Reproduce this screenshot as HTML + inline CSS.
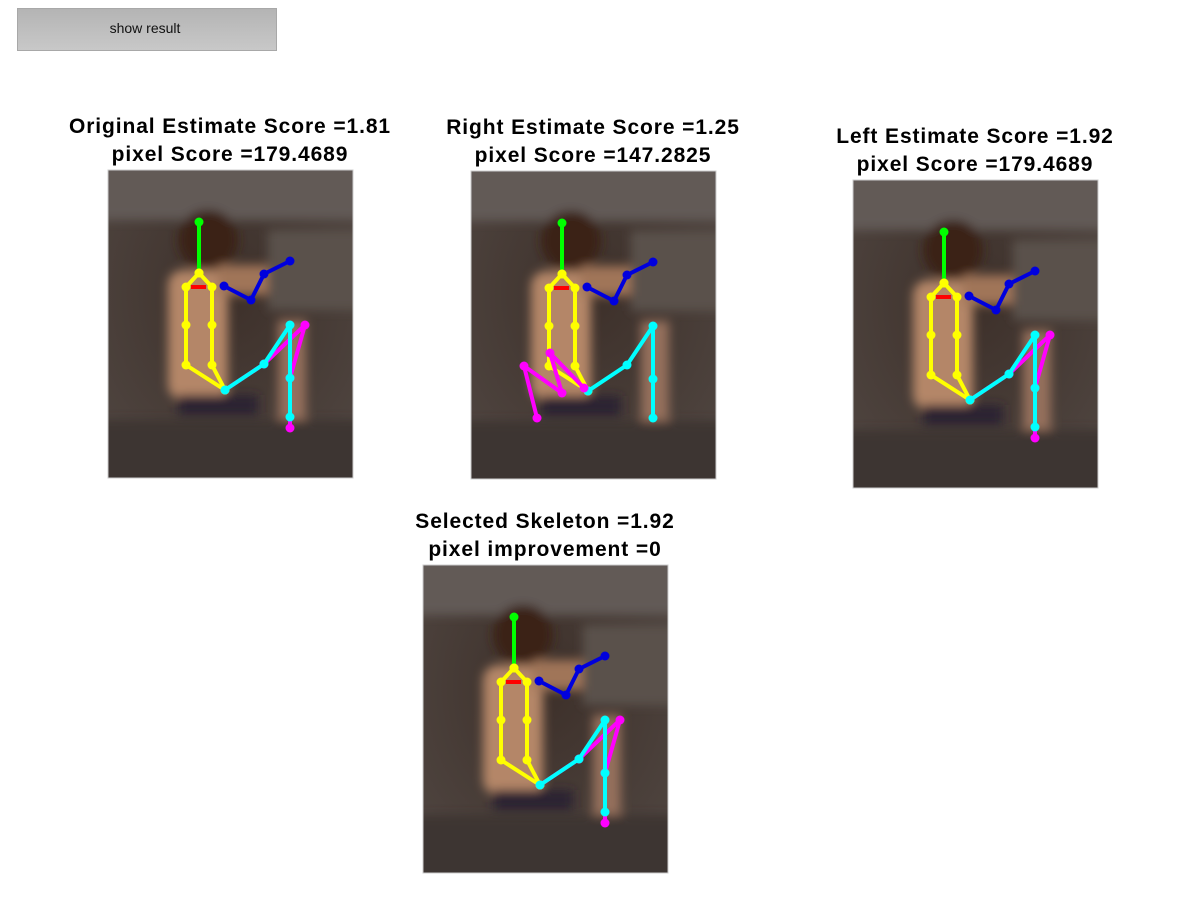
<!DOCTYPE html>
<html><head><meta charset="utf-8">
<style>
html,body{margin:0;padding:0;background:#fff;width:1200px;height:900px;overflow:hidden;font-family:"Liberation Sans",Arial,sans-serif}
#btn{position:absolute;left:17px;top:8px;width:258px;height:41px;border:1px solid #a8a8a8;background:linear-gradient(#b4b4b4,#c8c8c8);font-size:14px;color:#111;text-align:center;line-height:38px;text-indent:-4px}
svg{position:absolute;left:0;top:0}
</style></head><body>
<div id="btn">show result</div>
<svg id="s" width="1200" height="900">
<defs>
<radialGradient id="rock" cx="50%" cy="40%" r="70%">
<stop offset="0" stop-color="#3d302a"/><stop offset="1" stop-color="#4f4540"/>
</radialGradient>
<filter id="blur"><feGaussianBlur stdDeviation="5"/></filter>
<clipPath id="clip"><rect x="0" y="0" width="245" height="308"/></clipPath>
</defs>
</svg>
<script>
const panels = [
 {name:'original', x:108, y:170, t1:'Original Estimate Score =1.81', t2:'pixel Score =179.4689', skel:'A'},
 {name:'right', x:471, y:171, t1:'Right Estimate Score =1.25', t2:'pixel Score =147.2825', skel:'B'},
 {name:'left', x:853, y:180, t1:'Left Estimate Score =1.92', t2:'pixel Score =179.4689', skel:'A'},
 {name:'selected', x:423, y:565, t1:'Selected Skeleton =1.92', t2:'pixel improvement =0', skel:'A'}
];
// joint coordinates (local px within 245x308 image)
const headLimb = [[91,52],[91,103]];
const torsoLeft = [[91,103],[78,117],[78,155],[78,195],[117,220]];
const torsoRight = [[91,103],[104,117],[104,155],[104,195],[117,220]];
const shoulderBar = [[83,117],[98,117]];
const armBlue = [[116,116],[143,130],[156,104],[182,91]];
const legCyan = [[117,220],[156,194],[182,155],[182,208],[182,247]];
const legMagentaA = [[117,220],[156,194],[197,155],[182,208],[182,258]];
const legMagentaB = [[113,217],[79,182],[91,222],[53,195],[66,247]];

const S=document.getElementById('s'),NS='http://www.w3.org/2000/svg';
function mk(tag,attrs,parent){const e=document.createElementNS(NS,tag);for(const k in attrs)e.setAttribute(k,attrs[k]);(parent||S).appendChild(e);return e;}
function limb(g,pts,col,nm,dots){
 const pl=mk('polyline',{points:pts.map(p=>p.join(',')).join(' '),fill:'none',stroke:col,'stroke-width':4,'stroke-linejoin':'round'},g);
 
 
 if(dots) pts.forEach(p=>{const c=mk('circle',{cx:p[0],cy:p[1],r:4.5,fill:col},g);
  
  });
}
panels.forEach(p=>{
 const cx=p.x+122;
 const st={'text-anchor':'middle','font-size':21,'font-weight':'bold','letter-spacing':'0.9px',fill:'#000'};
 const t=mk('text',Object.assign({x:cx,y:p.y-37},st));
 t.textContent=p.t1;
 
 
 const t2=mk('text',Object.assign({x:cx,y:p.y-9},st));
 t2.textContent=p.t2;
 
 
 const g=mk('g',{transform:`translate(${p.x},${p.y})`});
 
 
 const c=mk('g',{'clip-path':'url(#clip)'},g);
 mk('rect',{x:0,y:0,width:245,height:308,fill:'url(#rock)'},c);
 const b=mk('g',{filter:'url(#blur)'},c);
 mk('rect',{x:-10,y:-10,width:265,height:60,fill:'#625a56'},b);
 mk('rect',{x:160,y:60,width:95,height:80,fill:'#5a514c'},b);
 mk('ellipse',{cx:100,cy:70,rx:30,ry:30,fill:'#3a2218'},b);
 mk('rect',{x:60,y:100,width:60,height:130,rx:15,fill:'#b48668'},b);
 mk('rect',{x:110,y:95,width:50,height:30,fill:'#a07458'},b);
 mk('rect',{x:170,y:150,width:28,height:110,fill:'#94705c'},b);
 mk('rect',{x:70,y:225,width:80,height:20,fill:'#2a2430'},b);
 mk('rect',{x:-10,y:250,width:265,height:70,fill:'#3e3632'},b);
 mk('rect',{x:0,y:0,width:245,height:308,fill:'none',stroke:'#ccc','stroke-width':1},g);
 limb(g,headLimb,'#00ff00','head',true);
 if(p.skel==='A') limb(g,legMagentaA,'#ff00ff','left-leg',true);
 limb(g,torsoLeft,'#ffff00','torso-left',true);
 limb(g,torsoRight,'#ffff00','torso-right',true);
 limb(g,shoulderBar,'#ff0000','shoulder',false);
 limb(g,armBlue,'#0000dd','arm',true);
 limb(g,legCyan,'#00ffff','right-leg',true);
 if(p.skel==='B') limb(g,legMagentaB,'#ff00ff','left-leg',true);
});
</script>
</body></html>
